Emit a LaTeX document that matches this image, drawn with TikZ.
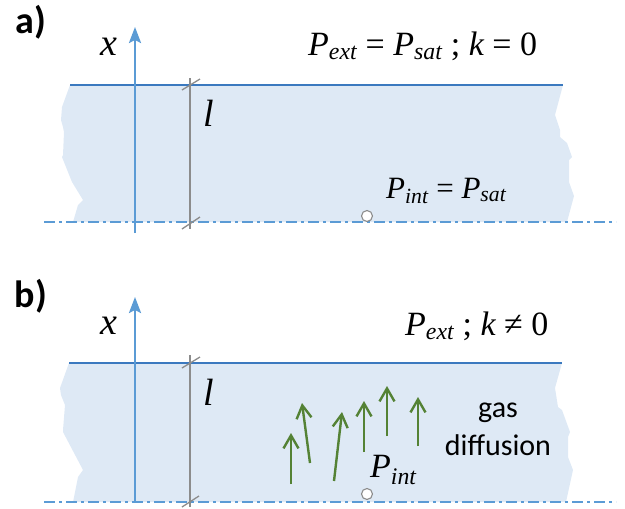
\documentclass[tikz,border=0pt]{standalone}
\usepackage{fontspec}
\setmainfont{Liberation Serif}
\newfontfamily\calib{Carlito}
\usetikzlibrary{arrows.meta}
\definecolor{filmfill}{HTML}{DEE9F5}
\definecolor{topblue}{HTML}{3B79BF}
\definecolor{axblue}{HTML}{5B9BD5}
\definecolor{dimgray}{HTML}{8C8C8C}
\definecolor{gasgreen}{HTML}{548235}
\newcommand{\sbs}[1]{\textsubscript{\itshape #1}}
\tikzset{
  film/.style={fill=filmfill, draw=none},
  surf/.style={draw=topblue, line width=2pt},
  sym/.style={draw=axblue, line width=2.3pt, dash pattern=on 11pt off 4pt on 3pt off 4pt},
  axis/.style={draw=axblue, line width=2.5pt, -{Stealth[length=16pt,width=12pt,inset=3pt]}},
  dimln/.style={draw=dimgray, line width=1.3pt},
  gas/.style={draw=gasgreen, line width=2.4pt, -{Straight Barb[length=13pt,width=15pt,line width=2.4pt]}},
  pt/.style={circle, draw=dimgray, fill=white, line width=1.1pt, minimum size=11pt, inner sep=0pt},
  lab/.style={font=\calib\bfseries\fontsize{38}{42}\selectfont, inner sep=0pt},
  var/.style={font=\itshape\fontsize{38}{42}\selectfont, inner sep=0pt},
  eqn/.style={font=\fontsize{34}{38}\selectfont, inner sep=0pt},
  eqs/.style={font=\fontsize{31}{35}\selectfont, inner sep=0pt},
  txt/.style={font=\calib\fontsize{30}{34}\selectfont, inner sep=0pt}
}
\begin{document}
\begin{tikzpicture}[x=1pt,y=-1pt]
\useasboundingbox (0,0) rectangle (625,509);
% ---------- panel a ----------
\fill[film] (70,85) -- (563,85) -- (555,115) -- (560,130) -- (560,137) -- (567,143) -- (572,157) -- (569,160) -- (569,182) -- (574,196) -- (567,222)
  -- (73,222) -- (78,205) -- (83,200) -- (72,182) -- (62,157) -- (63,155) -- (64,132) -- (63,127) -- (61,120) -- (62,107) -- cycle;
\coordinate (aTL) at (70,85); \coordinate (aTR) at (563,85);
\draw[surf] (aTL) -- (aTR);
\coordinate (aBL) at (44,222); \coordinate (aBR) at (616,222);
\draw[sym] (aBL) -- (aBR);
\coordinate (aAx0) at (135,233); \coordinate (aAx1) at (135,27);
\draw[axis] (aAx0) -- (aAx1);
\coordinate (aD0) at (190,78); \coordinate (aD1) at (190,229);
\draw[dimln] (aD0) -- (aD1);
\coordinate (aT1a) at (182,90); \coordinate (aT1b) at (200,79);
\coordinate (aT2a) at (182,229); \coordinate (aT2b) at (200,217);
\draw[dimln] (aT1a) -- (aT1b);
\draw[dimln] (aT2a) -- (aT2b);
\node[lab] (la) at (31,22) {a)};
\node[var] (xa) at (109,47) {x};
\node[var] (lla) at (209,113) {l};
\node[eqn, anchor=base west] (pea) at (308,55) {\itshape P\sbs{ext} \upshape= \itshape P\sbs{sat}\upshape\ ; \itshape k \upshape= 0};
\node[eqs, anchor=base west] (pia) at (386,198) {\itshape P\sbs{int} \upshape= \itshape P\sbs{sat}};
\node[pt] (ca) at (367,216) {};
% ---------- panel b ----------
\fill[film] (69,363) -- (562,363) -- (555,388) -- (558,407) -- (562,410) -- (570,432) -- (568,437) -- (568,457) -- (573,470) -- (566,502)
  -- (73,502) -- (78,477) -- (83,470) -- (63,432) -- (63,430) -- (65,405) -- (61,395) -- (60,388) -- cycle;
\coordinate (bTL) at (69,363); \coordinate (bTR) at (562,363);
\draw[surf] (bTL) -- (bTR);
\coordinate (bBL) at (44,502); \coordinate (bBR) at (616,502);
\draw[sym] (bBL) -- (bBR);
\coordinate (bAx0) at (135,501); \coordinate (bAx1) at (135,297);
\draw[axis] (bAx0) -- (bAx1);
\coordinate (bD0) at (190,355); \coordinate (bD1) at (190,507);
\draw[dimln] (bD0) -- (bD1);
\coordinate (bT1a) at (182,368); \coordinate (bT1b) at (200,357);
\coordinate (bT2a) at (182,507); \coordinate (bT2b) at (199,496);
\draw[dimln] (bT1a) -- (bT1b);
\draw[dimln] (bT2a) -- (bT2b);
\node[lab] (lb) at (31,296) {b)};
\node[var] (xb) at (109,326) {x};
\node[var] (llb) at (209,392) {l};
\node[eqn, anchor=base west] (peb) at (405,335) {\itshape P\sbs{ext}\upshape\ ; \itshape k \upshape≠ 0};
\node[eqn, anchor=base west] (pib) at (370,477) {\itshape P\sbs{int}};
\node[pt] (cb) at (367,494) {};
\node[txt, anchor=base] (g1) at (498,417) {gas};
\node[txt, anchor=base] (g2) at (498,455) {diffusion};
% gas arrows
\coordinate (g1s) at (291,484); \coordinate (g1e) at (291,433);
\coordinate (g2s) at (310,463); \coordinate (g2e) at (302,403);
\coordinate (g3s) at (334,481); \coordinate (g3e) at (342,412);
\coordinate (g4s) at (364,452); \coordinate (g4e) at (364,401);
\coordinate (g5s) at (387,436); \coordinate (g5e) at (387,386);
\coordinate (g6s) at (418,446); \coordinate (g6e) at (418,397);
\foreach \i in {1,...,6} { \draw[gas] (g\i s) -- (g\i e); }
\end{tikzpicture}
\end{document}
